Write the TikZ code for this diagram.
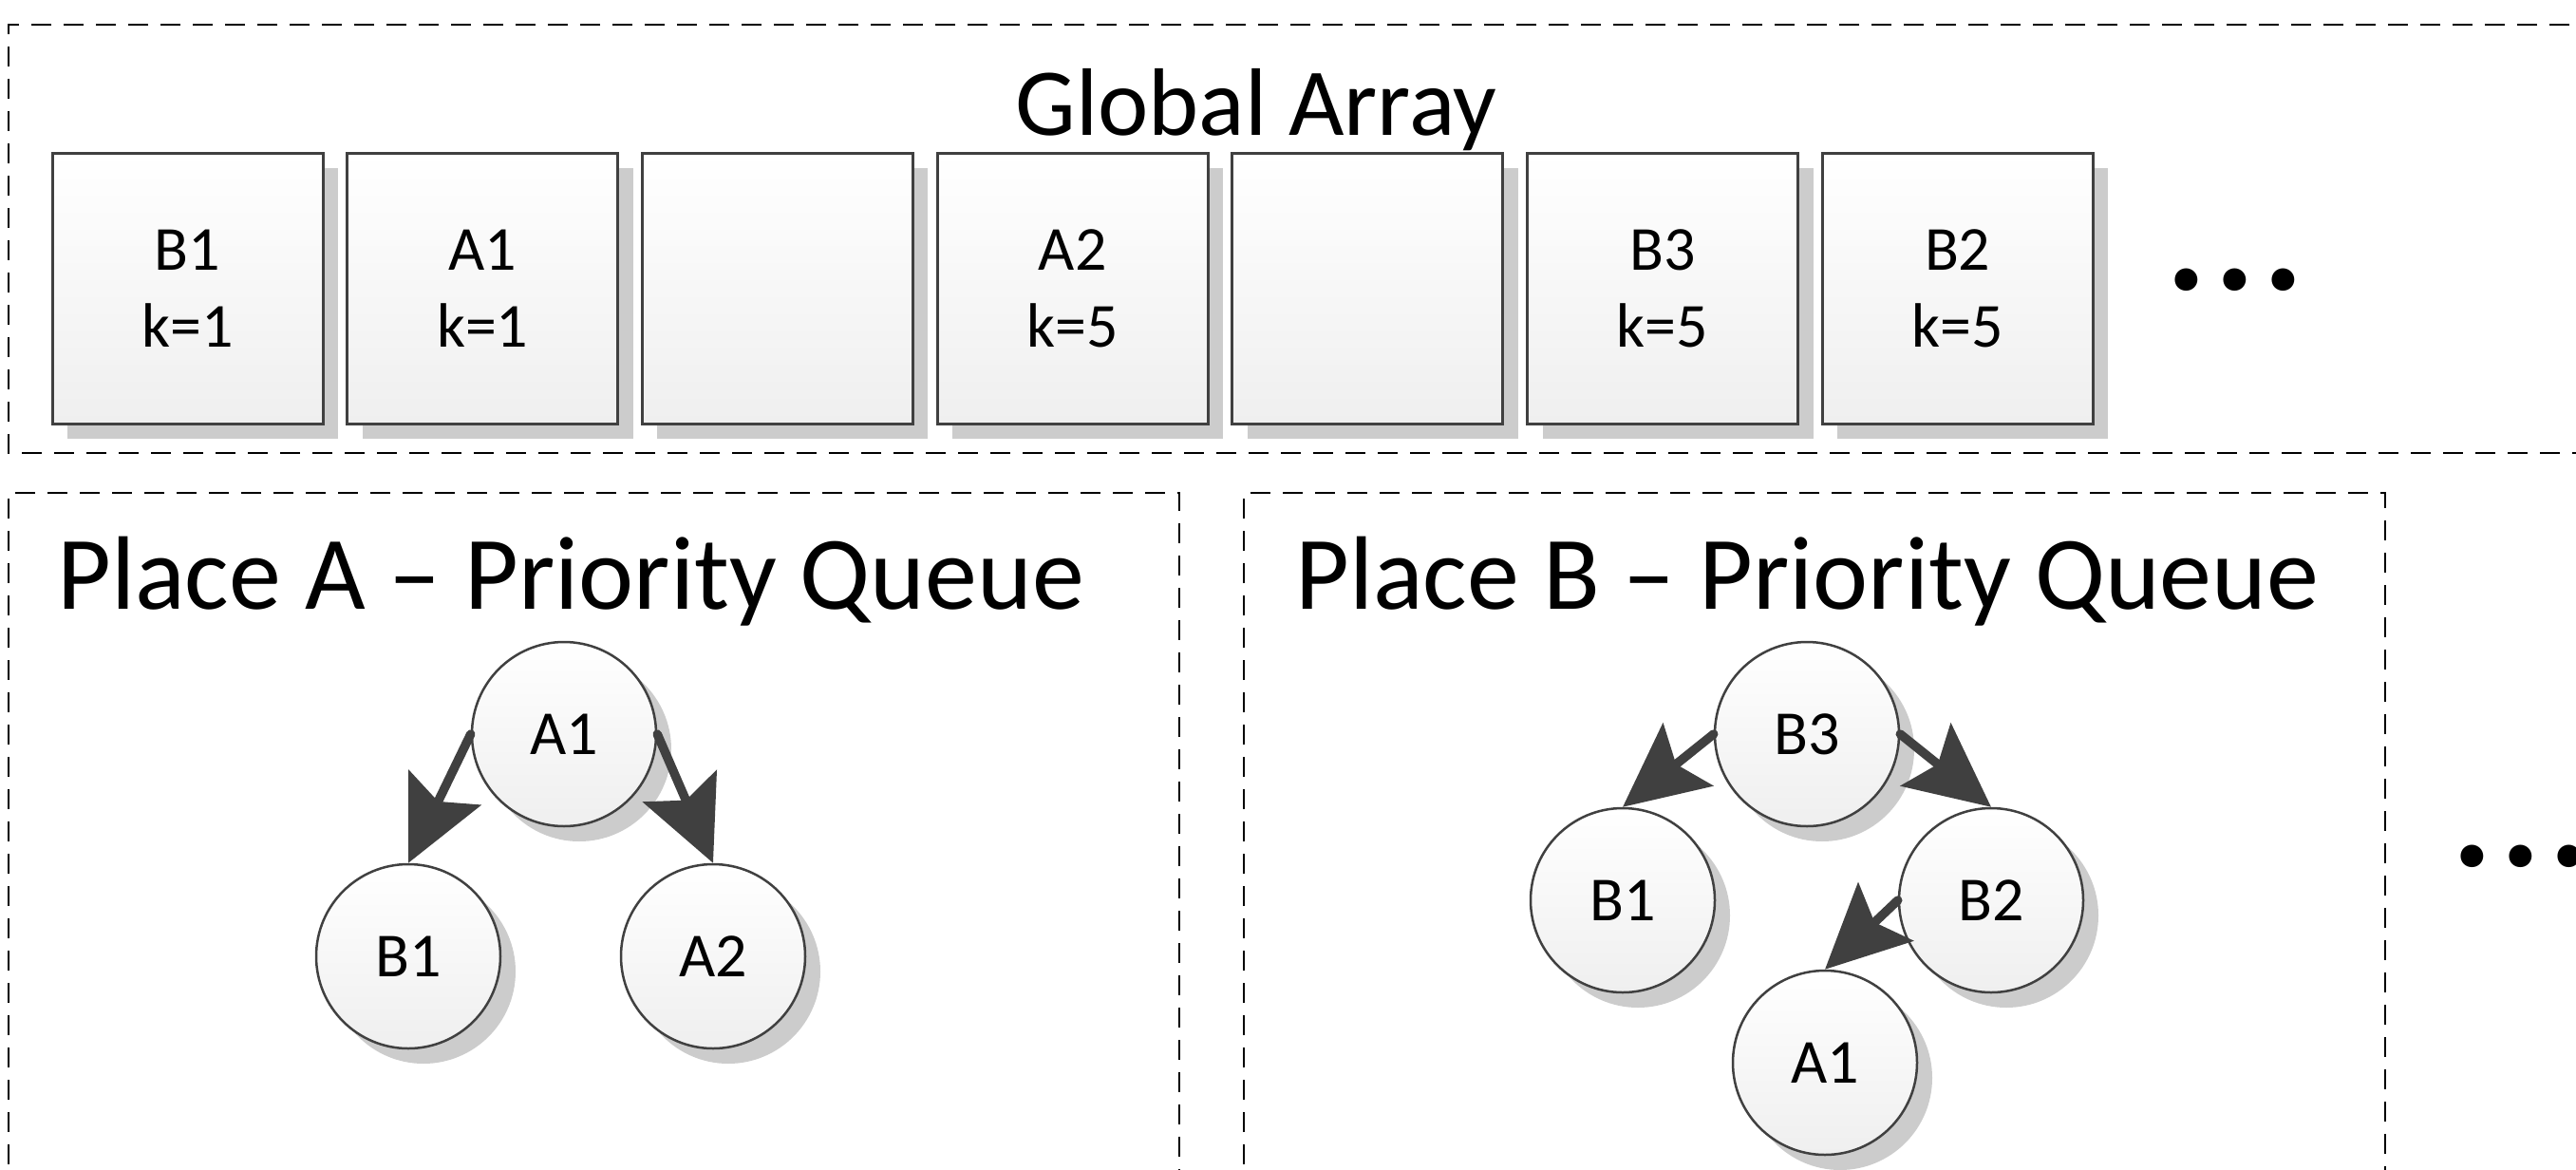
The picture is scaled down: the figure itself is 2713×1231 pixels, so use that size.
\documentclass[tikz,border=0pt]{standalone}
\usepackage{fontspec}
\setmainfont{Carlito}
\usetikzlibrary{arrows.meta,shadows}
\definecolor{edgegray}{HTML}{404040}
\definecolor{fillbot}{HTML}{EFEFEF}
\definecolor{shadowgray}{HTML}{CCCCCC}
\tikzset{
  shad/.style={drop shadow={shadow xshift=16pt, shadow yshift=-16pt, fill=shadowgray, opacity=1}},
  cell/.style={rectangle, draw=edgegray, line width=3pt, top color=white, bottom color=fillbot,
    minimum width=285pt, minimum height=285pt, inner sep=0pt, align=center, shad,
    font=\fontsize{66pt}{81pt}\selectfont},
  ball/.style={circle, draw=edgegray, line width=2.5pt, top color=white, bottom color=fillbot,
    minimum size=194pt, inner sep=0pt, shad, font=\fontsize{66pt}{81pt}\selectfont},
  frame/.style={draw=black, line width=2.8pt, dash pattern=on 21pt off 13pt},
  arr/.style={draw=edgegray, line width=9.5pt, line cap=round,
    -{Stealth[length=88pt 0 0, width=84pt 0, inset=16pt 0]}},
  bigtitle/.style={inner sep=0pt, font=\fontsize{101pt}{120pt}\selectfont},
  placetitle/.style={inner sep=0pt, font=\fontsize{110pt}{130pt}\selectfont},
  dotsnode/.style={inner sep=0pt, font=\bfseries\fontsize{160pt}{160pt}\selectfont}
}
\newcommand{\mydots}{.\kern8.3pt.\kern8.3pt.}
\begin{document}
\begin{tikzpicture}[x=1pt,y=-1pt]
\useasboundingbox (0,0) rectangle (2713,1231);
\clip (0,0) rectangle (2713,1231);
% frames
\draw[frame] (2740,26) -- (9,26) -- (9,477) -- (2740,477);
\draw[frame] (9,1260) -- (9,519) -- (1242,519) -- (1242,1260);
\draw[frame] (1310,1260) -- (1310,519) -- (2512,519) -- (2512,1260);
% global array
\node[bigtitle, anchor=base] (tga) at (1323,142) {Global Array};
\node[cell] (c1) at (197.5,303.5) {B1\\k=1};
\node[cell] (c2) at (508.2,303.5) {A1\\k=1};
\node[cell] (c3) at (818.9,303.5) {};
\node[cell] (c4) at (1129.6,303.5) {A2\\k=5};
\node[cell] (c5) at (1440.3,303.5) {};
\node[cell] (c6) at (1751.0,303.5) {B3\\k=5};
\node[cell] (c7) at (2061.7,303.5) {B2\\k=5};
\node[dotsnode] (dots1) at (2354,295) {\mydots};
% place A
\node[placetitle, anchor=base west] (tpa) at (60,641) {Place A – Priority Queue};
\node[ball] (pa1) at (594,773) {A1};
\node[ball] (pb1) at (430,1007) {B1};
\node[ball] (pa2) at (751,1007) {A2};
\draw[arr] (pa1.west) -- (pb1.north);
\draw[arr] (pa1.east) -- (pa2.north);
% place B
\node[placetitle, anchor=base west] (tpb) at (1364,641) {Place B – Priority Queue};
\node[ball] (qb3) at (1903,773) {B3};
\node[ball] (qb1) at (1709,948) {B1};
\node[ball] (qb2) at (2097,948) {B2};
\node[ball] (qa1) at (1922,1119) {A1};
\draw[arr] (qb3.west) -- (qb1.north);
\draw[arr] (qb3.east) -- (qb2.north);
\draw[arr] (qb2.west) -- (qa1.north);
\node[dotsnode] (dots2) at (2655,902) {\mydots};
\end{tikzpicture}
\end{document}
